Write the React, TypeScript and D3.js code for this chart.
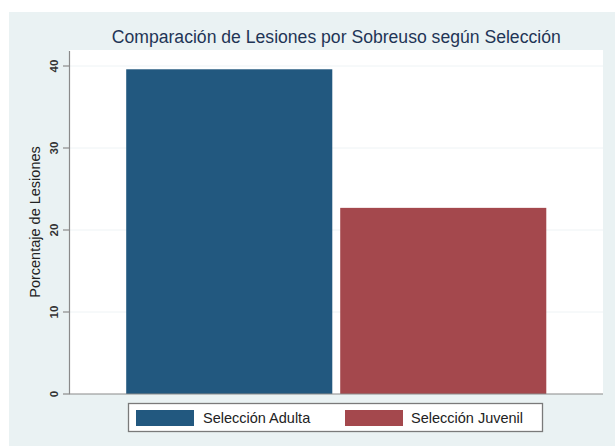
import React from "react";
import * as d3 from "d3";

const categories = ["Selección Adulta", "Selección Juvenil"];
const values = [39.6, 22.7];
const yTicks = [0, 10, 20, 30, 40];
const colors = ["#22587f", "#a4484d"];
const title = "Comparación de Lesiones por Sobreuso según Selección";
const yLabel = "Porcentaje de Lesiones";

const W = 615;
const H = 446;
const plot = { x0: 69.5, x1: 603, y0: 50, y1: 394 };
const font = "'Liberation Sans', Arial, Helvetica, sans-serif";

export default function App() {
  const x = d3
    .scaleBand<string>()
    .domain(categories)
    .range([plot.x0, plot.x1])
    .paddingInner(0.037)
    .paddingOuter(0.265);
  const y = d3.scaleLinear().domain([0, 40]).range([394, 66]);

  const legendItems = [
    { sx: 136, tx: 203 },
    { sx: 345, tx: 411 },
  ];

  return (
    <svg
      width={W}
      height={H}
      style={{ position: "absolute", left: 0, top: 0, display: "block" }}
      fontFamily={font}
    >
      <rect x={0} y={0} width={W} height={H} fill="#ffffff" />
      <rect x={9} y={12} width={W - 9} height={H - 12} fill="#eaf2f3" />
      <rect
        x={plot.x0}
        y={plot.y0}
        width={plot.x1 - plot.x0}
        height={plot.y1 - plot.y0}
        fill="#ffffff"
      />
      {/* gridlines */}
      {yTicks
        .filter((t) => t > 0)
        .map((t) => (
          <line
            key={"g" + t}
            x1={plot.x0}
            x2={plot.x1}
            y1={y(t)}
            y2={y(t)}
            stroke="#eef3f5"
            strokeWidth={1}
          />
        ))}
      {/* bars */}
      {categories.map((c, i) => (
        <rect
          key={c}
          x={x(c)!}
          y={y(values[i])}
          width={x.bandwidth()}
          height={y(0) - y(values[i])}
          fill={colors[i]}
        />
      ))}
      {/* axes */}
      <line x1={plot.x0} x2={plot.x0} y1={plot.y0 + 1} y2={394} stroke="#8a8a8a" strokeWidth={1.2} />
      <line x1={plot.x0 - 0.5} x2={plot.x1} y1={394} y2={394} stroke="#8a8a8a" strokeWidth={1.2} />
      {yTicks.map((t) => (
        <g key={"t" + t}>
          <line x1={63} x2={plot.x0} y1={y(t)} y2={y(t)} stroke="#8a8a8a" strokeWidth={1.2} />
          <text
            transform={`translate(58,${y(t)}) rotate(-90)`}
            textAnchor="middle"
            fontSize={11.5}
            fill="#333"
            fontWeight="bold"
          >
            {t}
          </text>
        </g>
      ))}
      <text
        transform={`translate(40,${(plot.y0 + 394) / 2}) rotate(-90)`}
        textAnchor="middle"
        fontSize={14.5}
        fill="#222"
      >
        {yLabel}
      </text>
      <text
        x={(plot.x0 + plot.x1) / 2}
        y={43}
        textAnchor="middle"
        fontSize={17.6}
        fill="#1f3556"
      >
        {title}
      </text>
      {/* legend */}
      <rect x={128.5} y={403.5} width={414} height={28} fill="#ffffff" stroke="#7a7a7a" strokeWidth={1.3} />
      {categories.map((c, i) => (
        <g key={"l" + c}>
          <rect x={legendItems[i].sx} y={410} width={58} height={16} fill={colors[i]} />
          <text x={legendItems[i].tx} y={423} fontSize={14.5} fill="#222">
            {c}
          </text>
        </g>
      ))}
    </svg>
  );
}
